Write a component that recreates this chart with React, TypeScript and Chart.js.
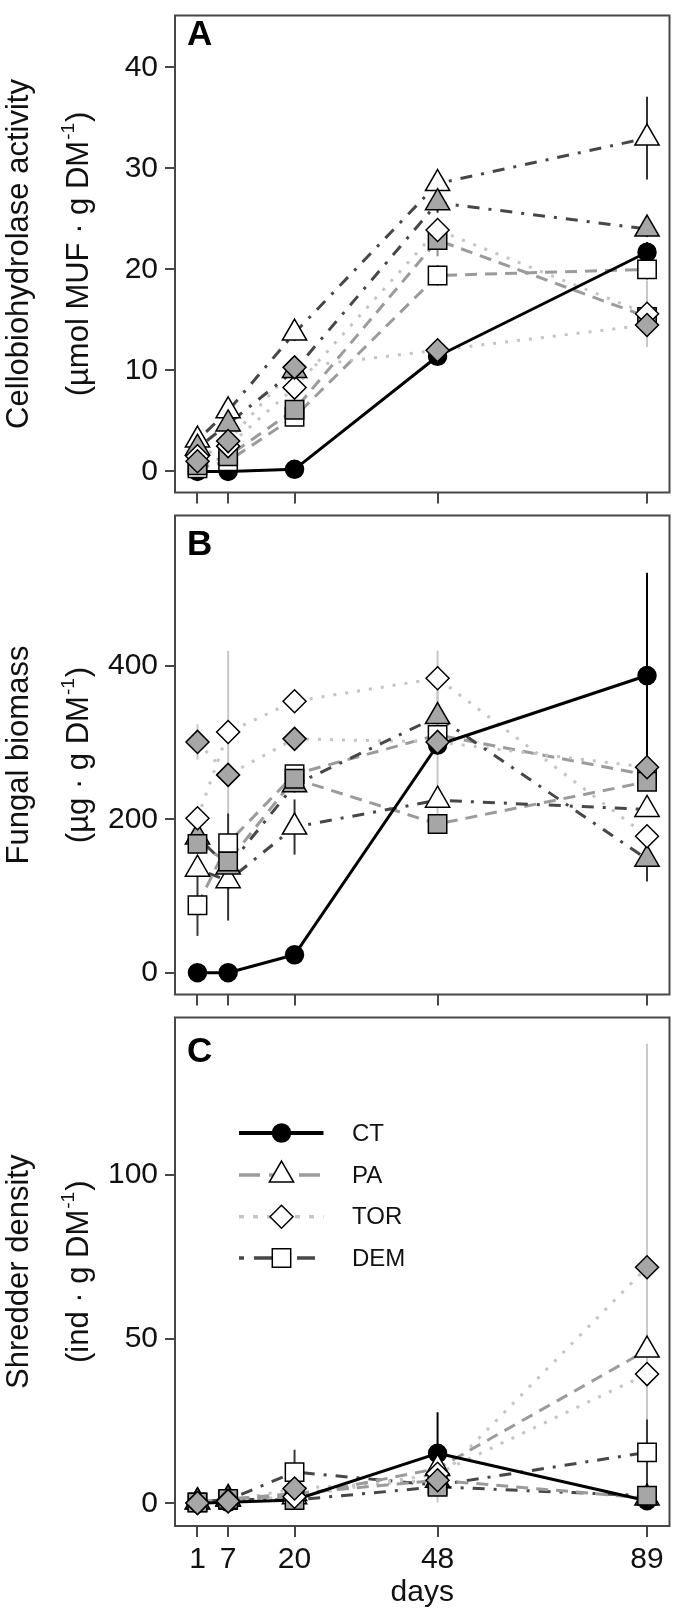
import React, { useEffect, useRef } from 'react';
import { Chart, registerables } from 'chart.js';

Chart.register(...registerables);

// ---------------- data ----------------
const days = [1, 7, 20, 48, 89];
const xTickValues = [1, 7, 20, 48, 89];

// Panel A: cellobiohydrolase activity
const cbhTicks = [0, 10, 20, 30, 40];
const cbhCT = [0, 0, 0.2, 11.4, 21.7];
const cbhCTse = [0.2, 0.2, 0.3, 0.6, 1.0];
const cbhPAopen = [3.1, 6.0, 13.7, 28.5, 33.0];
const cbhPAopenSe = [0.5, 0.6, 0.8, 0.8, 4.1];
const cbhPAgrey = [2.3, 4.7, 10.0, 26.6, 24.0];
const cbhPAgreySe = [0.4, 0.5, 0.8, 1.0, 0.8];
const cbhTORopen = [1.5, 2.5, 8.3, 23.9, 15.6];
const cbhTORopenSe = [0.4, 0.5, 0.8, 1.0, 3.3];
const cbhTORgrey = [1.0, 3.0, 10.3, 12.0, 14.5];
const cbhTORgreySe = [0.3, 0.5, 0.8, 0.5, 2.0];
const cbhDEMopen = [0.3, 1.0, 5.4, 19.4, 20.0];
const cbhDEMopenSe = [0.2, 0.3, 0.5, 1.0, 1.0];
const cbhDEMgrey = [0.6, 1.5, 6.1, 22.9, 15.3];
const cbhDEMgreySe = [0.3, 0.5, 0.6, 1.6, 1.0];

// Panel B: fungal biomass
const fbTicks = [0, 200, 400];
const fbCT = [0, 0, 23.4, 297, 387.6];
const fbCTse = [1, 1, 3, 10, 134];
const fbPAopen = [135, 120, 190, 225, 213];
const fbPAopenSe = [10, 12, 36, 10, 10];
const fbPAgrey = [177, 138, 245, 334, 148];
const fbPAgreySe = [8, 70, 10, 12, 29];
const fbTORopen = [201.5, 314, 354, 384, 178];
const fbTORopenSe = [10, 106, 10, 36, 12];
const fbTORgrey = [301, 258, 305, 301, 268];
const fbTORgreySe = [23, 12, 12, 100, 12];
const fbDEMopen = [88, 169, 259, 310, 258];
const fbDEMopenSe = [40, 12, 10, 10, 10];
const fbDEMgrey = [168, 145, 253, 194, 249];
const fbDEMgreySe = [8, 10, 10, 8, 10];

// Panel C: shredder density
const sdTicks = [0, 50, 100];
const sdCT = [0, 0.3, 1.0, 15.2, 0.8];
const sdCTse = [0.3, 0.3, 0.5, 12.5, 0.5];
const sdPAopen = [0.5, 1.5, 2.0, 10.6, 46.6];
const sdPAopenSe = [0.3, 0.4, 0.6, 2.0, 3.0];
const sdPAgrey = [0.4, 1.2, 3.0, 7.0, 1.6];
const sdPAgreySe = [0.3, 0.4, 0.6, 1.5, 0.8];
const sdTORopen = [0.1, 0.8, 2.0, 9.0, 39.3];
const sdTORopenSe = [0.3, 0.3, 0.6, 1.5, 3.0];
const sdTORgrey = [0.1, 0.6, 4.5, 7.0, 71.8];
const sdTORgreySe = [0.3, 0.3, 0.6, 6.8, 68];
const sdDEMopen = [0.3, 1.0, 9.5, 5.5, 15.5];
const sdDEMopenSe = [0.3, 0.3, 6.8, 1.0, 10];
const sdDEMgrey = [0.25, 1.3, 1.0, 5.0, 2.3];
const sdDEMgreySe = [0.3, 0.3, 0.5, 1.0, 0.8];

const legendLabels = ['CT', 'PA', 'TOR', 'DEM'];

// ---------------- styles ----------------
const FAMILY = '"Liberation Sans", Arial, Helvetica, sans-serif';
const TEXT = '#111111';
const FRAME = '#474747';
const GREY_FILL = '#a6a6a6';

type LineKey = 'solid' | 'dashed' | 'dotted' | 'dotdash';
const LINE_STYLES: Record<LineKey, { color: string; dash: number[]; width: number }> = {
  solid: { color: '#000000', dash: [], width: 3 },
  dashed: { color: '#9b9b9b', dash: [12, 8], width: 3 },
  dotted: { color: '#c4c4c4', dash: [3, 9], width: 3 },
  dotdash: { color: '#474747', dash: [3, 9, 12, 9], width: 3 },
};
const LEGEND_DASH: Record<LineKey, number[]> = {
  solid: [],
  dashed: [21, 9],
  dotted: [5, 9],
  dotdash: [5, 10, 18, 10],
};

type SeriesId = 'CT' | 'PAo' | 'PAg' | 'TORo' | 'TORg' | 'DEMo' | 'DEMg';
const MARKERS: Record<SeriesId, { shape: string; r: number; fill: string }> = {
  CT: { shape: 'circle', r: 9, fill: '#000000' },
  PAo: { shape: 'triangle', r: 14, fill: '#ffffff' },
  PAg: { shape: 'triangle', r: 14, fill: GREY_FILL },
  TORo: { shape: 'rectRot', r: 11.5, fill: '#ffffff' },
  TORg: { shape: 'rectRot', r: 11.5, fill: GREY_FILL },
  DEMo: { shape: 'rect', r: 13, fill: '#ffffff' },
  DEMg: { shape: 'rect', r: 13, fill: GREY_FILL },
};
const ERR_COLOR: Record<SeriesId, string> = {
  CT: '#000000',
  PAo: '#333333',
  PAg: '#333333',
  TORo: '#c8c8c8',
  TORg: '#c8c8c8',
  DEMo: '#3a3a3a',
  DEMg: '#8f8f8f',
};
// smaller order = drawn on top
const POINT_ORDER: Record<SeriesId, number> = { TORg: 1, TORo: 2, DEMg: 3, DEMo: 4, PAg: 5, PAo: 6, CT: 7 };
const LINE_ORDER: Record<SeriesId, number> = { CT: 10, PAo: 11, PAg: 12, TORo: 13, TORg: 14, DEMo: 15, DEMg: 16 };

const LINES_AB: Record<SeriesId, LineKey> = {
  CT: 'solid', PAo: 'dotdash', PAg: 'dotdash', TORo: 'dotted', TORg: 'dotted', DEMo: 'dashed', DEMg: 'dashed',
};
const LINES_C: Record<SeriesId, LineKey> = {
  CT: 'solid', PAo: 'dashed', PAg: 'dashed', TORo: 'dotted', TORg: 'dotted', DEMo: 'dotdash', DEMg: 'dotdash',
};

type SeriesDef = { id: SeriesId; vals: number[]; se: number[] };
type PanelDef = {
  letter: string;
  yMin: number;
  yMax: number;
  yTicks: number[];
  title1: string;
  title2: string;
  title2sup: string;
  title2end: string;
  series: SeriesDef[];
  lines: Record<SeriesId, LineKey>;
  showX: boolean;
  legend: boolean;
  canvasTop: number;
  canvasHeight: number;
  padTop: number;
  xAxisH: number;
  letterY: number;
};

const PANELS: PanelDef[] = [
  {
    letter: 'A', yMin: -2.09, yMax: 45.14, yTicks: cbhTicks,
    title1: 'Cellobiohydrolase activity', title2: '(\u00b5mol MUF \u00b7 g DM', title2sup: '-1', title2end: ')',
    series: [
      { id: 'CT', vals: cbhCT, se: cbhCTse },
      { id: 'PAo', vals: cbhPAopen, se: cbhPAopenSe },
      { id: 'PAg', vals: cbhPAgrey, se: cbhPAgreySe },
      { id: 'TORo', vals: cbhTORopen, se: cbhTORopenSe },
      { id: 'TORg', vals: cbhTORgrey, se: cbhTORgreySe },
      { id: 'DEMo', vals: cbhDEMopen, se: cbhDEMopenSe },
      { id: 'DEMg', vals: cbhDEMgrey, se: cbhDEMgreySe },
    ],
    lines: LINES_AB, showX: false, legend: false,
    canvasTop: 0, canvasHeight: 508, padTop: 4, xAxisH: 13, letterY: 45,
  },
  {
    letter: 'B', yMin: -28.4, yMax: 596.3, yTicks: fbTicks,
    title1: 'Fungal biomass', title2: '(\u00b5g \u00b7 g DM', title2sup: '-1', title2end: ')',
    series: [
      { id: 'CT', vals: fbCT, se: fbCTse },
      { id: 'PAo', vals: fbPAopen, se: fbPAopenSe },
      { id: 'PAg', vals: fbPAgrey, se: fbPAgreySe },
      { id: 'TORo', vals: fbTORopen, se: fbTORopenSe },
      { id: 'TORg', vals: fbTORgrey, se: fbTORgreySe },
      { id: 'DEMo', vals: fbDEMopen, se: fbDEMopenSe },
      { id: 'DEMg', vals: fbDEMgrey, se: fbDEMgreySe },
    ],
    lines: LINES_AB, showX: false, legend: false,
    canvasTop: 500, canvasHeight: 510, padTop: 8, xAxisH: 11, letterY: 555,
  },
  {
    letter: 'C', yMin: -6.9, yMax: 147.75, yTicks: sdTicks,
    title1: 'Shredder density', title2: '(ind \u00b7 g DM', title2sup: '-1', title2end: ')',
    series: [
      { id: 'CT', vals: sdCT, se: sdCTse },
      { id: 'PAo', vals: sdPAopen, se: sdPAopenSe },
      { id: 'PAg', vals: sdPAgrey, se: sdPAgreySe },
      { id: 'TORo', vals: sdTORopen, se: sdTORopenSe },
      { id: 'TORg', vals: sdTORgrey, se: sdTORgreySe },
      { id: 'DEMo', vals: sdDEMopen, se: sdDEMopenSe },
      { id: 'DEMg', vals: sdDEMgrey, se: sdDEMgreySe },
    ],
    lines: LINES_C, showX: true, legend: true,
    canvasTop: 1002, canvasHeight: 616, padTop: 8, xAxisH: 92, letterY: 1062,
  },
];

const LEGEND_SERIES: SeriesId[] = ['CT', 'PAo', 'TORo', 'DEMo'];
const LEGEND_ROWS_Y = [1133, 1175, 1216.7, 1258];

// ---------------- drawing helpers ----------------
function markerPath(ctx: CanvasRenderingContext2D, shape: string, x: number, y: number, r: number) {
  ctx.beginPath();
  if (shape === 'circle') {
    ctx.arc(x, y, r, 0, Math.PI * 2);
  } else if (shape === 'triangle') {
    let rad = 0;
    ctx.moveTo(x + Math.sin(rad) * r, y - Math.cos(rad) * r);
    rad += (2 * Math.PI) / 3;
    ctx.lineTo(x + Math.sin(rad) * r, y - Math.cos(rad) * r);
    rad += (2 * Math.PI) / 3;
    ctx.lineTo(x + Math.sin(rad) * r, y - Math.cos(rad) * r);
  } else if (shape === 'rectRot') {
    ctx.moveTo(x - r, y);
    ctx.lineTo(x, y - r);
    ctx.lineTo(x + r, y);
    ctx.lineTo(x, y + r);
  } else {
    const s = Math.SQRT1_2 * r;
    ctx.rect(x - s, y - s, 2 * s, 2 * s);
  }
  ctx.closePath();
}

function drawErrorBars(chart: any, def: PanelDef) {
  const ctx: CanvasRenderingContext2D = chart.ctx;
  const xs = chart.scales.x;
  const ys = chart.scales.y;
  ctx.save();
  ctx.lineWidth = 2;
  ctx.setLineDash([]);
  ctx.lineCap = 'butt';
  def.series.forEach((s) => {
    ctx.strokeStyle = ERR_COLOR[s.id];
    days.forEach((d, i) => {
      const e = s.se[i];
      if (!e) return;
      const x = xs.getPixelForValue(d);
      const y1 = ys.getPixelForValue(s.vals[i] - e);
      const y2 = ys.getPixelForValue(s.vals[i] + e);
      ctx.beginPath();
      ctx.moveTo(x, y1);
      ctx.lineTo(x, y2);
      ctx.stroke();
    });
  });
  ctx.restore();
}

function drawYTitle(ctx: CanvasRenderingContext2D, def: PanelDef, area: any) {
  const cy = (area.top + area.bottom) / 2;
  const main = `31px ${FAMILY}`;
  const sup = `19px ${FAMILY}`;
  ctx.save();
  ctx.fillStyle = TEXT;
  ctx.textBaseline = 'middle';
  ctx.translate(19, cy);
  ctx.rotate(-Math.PI / 2);
  ctx.font = main;
  ctx.textAlign = 'center';
  ctx.fillText(def.title1, 0, 0);
  ctx.restore();

  ctx.save();
  ctx.fillStyle = TEXT;
  ctx.textBaseline = 'middle';
  ctx.translate(79, cy);
  ctx.rotate(-Math.PI / 2);
  ctx.font = main;
  const w1 = ctx.measureText(def.title2).width;
  const w3 = ctx.measureText(def.title2end).width;
  ctx.font = sup;
  const w2 = ctx.measureText(def.title2sup).width;
  let x = -(w1 + w2 + w3 + 2) / 2;
  ctx.textAlign = 'left';
  ctx.font = main;
  ctx.fillText(def.title2, x, 0);
  x += w1 + 1;
  ctx.font = sup;
  ctx.fillText(def.title2sup, x, -10);
  x += w2 + 1;
  ctx.font = main;
  ctx.fillText(def.title2end, x, 0);
  ctx.restore();
}

function drawLegend(ctx: CanvasRenderingContext2D, def: PanelDef) {
  const legendLines: LineKey[] = ['solid', 'dashed', 'dotted', 'dotdash'];
  ctx.save();
  LEGEND_SERIES.forEach((id, i) => {
    const y = LEGEND_ROWS_Y[i] - def.canvasTop;
    const lk = legendLines[i];
    const ls = LINE_STYLES[lk];
    ctx.strokeStyle = ls.color;
    ctx.lineWidth = lk === 'solid' ? 4 : 3.5;
    ctx.lineCap = 'butt';
    ctx.setLineDash(LEGEND_DASH[lk]);
    ctx.beginPath();
    ctx.moveTo(239, y);
    ctx.lineTo(323.5, y);
    ctx.stroke();
    ctx.setLineDash([]);
    const m = MARKERS[id];
    markerPath(ctx, m.shape, 281.5, y, m.r);
    ctx.fillStyle = m.fill;
    ctx.fill();
    ctx.lineWidth = 1.5;
    ctx.strokeStyle = '#000000';
    ctx.stroke();
    ctx.fillStyle = TEXT;
    ctx.font = `24px ${FAMILY}`;
    ctx.textAlign = 'left';
    ctx.textBaseline = 'middle';
    ctx.fillText(legendLabels[i], 352, y + 1);
  });
  ctx.restore();
}

function makePlugin(def: PanelDef) {
  let errDrawn = false;
  return {
    id: 'panelDeco' + def.letter,
    beforeDraw() {
      errDrawn = false;
    },
    beforeDatasetDraw(chart: any, args: any) {
      const ds = chart.data.datasets[args.index];
      if (ds && ds.isPts && !errDrawn) {
        drawErrorBars(chart, def);
        errDrawn = true;
      }
    },
    afterDraw(chart: any) {
      const ctx: CanvasRenderingContext2D = chart.ctx;
      const a = chart.chartArea;
      ctx.save();
      ctx.strokeStyle = FRAME;
      ctx.lineWidth = 2;
      ctx.setLineDash([]);
      ctx.strokeRect(a.left, a.top, a.right - a.left, a.bottom - a.top);
      ctx.fillStyle = '#000000';
      ctx.font = `bold 35px ${FAMILY}`;
      ctx.textAlign = 'left';
      ctx.textBaseline = 'alphabetic';
      ctx.fillText(def.letter, 187, def.letterY - def.canvasTop);
      ctx.restore();
      drawYTitle(ctx, def, a);
      if (def.legend) drawLegend(ctx, def);
    },
  };
}

function makeChart(canvas: HTMLCanvasElement, def: PanelDef) {
  const datasets: any[] = [];
  def.series.forEach((s) => {
    const ls = LINE_STYLES[def.lines[s.id]];
    const pts = days.map((d, i) => ({ x: d, y: s.vals[i] }));
    datasets.push({
      label: s.id + ' line',
      data: pts,
      borderColor: ls.color,
      borderDash: ls.dash,
      borderWidth: ls.width,
      borderCapStyle: 'butt',
      borderJoinStyle: 'round',
      pointRadius: 0,
      pointHoverRadius: 0,
      fill: false,
      tension: 0,
      order: LINE_ORDER[s.id],
      clip: false,
    });
    const m = MARKERS[s.id];
    datasets.push({
      label: s.id,
      data: pts,
      showLine: false,
      pointStyle: m.shape,
      pointRadius: m.r,
      pointHoverRadius: m.r,
      pointBackgroundColor: m.fill,
      pointBorderColor: '#000000',
      pointBorderWidth: 1.5,
      order: POINT_ORDER[s.id],
      isPts: true,
      clip: false,
    });
  });

  const gridCfg = {
    display: true,
    drawOnChartArea: false,
    drawTicks: true,
    tickColor: FRAME,
    tickWidth: 2,
    lineWidth: 2,
  };

  return new Chart(canvas, {
    type: 'line',
    data: { datasets },
    plugins: [makePlugin(def)],
    options: {
      responsive: false,
      animation: false,
      devicePixelRatio: 1,
      events: [],
      layout: { padding: { left: 0, right: 5, top: def.padTop, bottom: 0 } },
      plugins: { legend: { display: false }, tooltip: { enabled: false } },
      scales: {
        x: {
          type: 'linear',
          min: -3.4,
          max: 93.4,
          afterBuildTicks: (s: any) => {
            s.ticks = xTickValues.map((v) => ({ value: v }));
          },
          afterFit: (s: any) => {
            s.height = def.xAxisH;
            s.paddingLeft = 0;
            s.paddingRight = 0;
          },
          grid: { ...gridCfg, tickLength: 11 },
          border: { display: false },
          ticks: {
            display: def.showX,
            autoSkip: false,
            maxRotation: 0,
            color: TEXT,
            font: { size: 30, family: FAMILY },
            padding: 5,
          },
          title: {
            display: def.showX,
            text: 'days',
            color: TEXT,
            font: { size: 30, family: FAMILY },
            padding: { top: 0, bottom: 7 },
          },
        },
        y: {
          type: 'linear',
          min: def.yMin,
          max: def.yMax,
          afterBuildTicks: (s: any) => {
            s.ticks = def.yTicks.map((v) => ({ value: v }));
          },
          afterFit: (s: any) => {
            s.width = 175;
            s.paddingTop = 0;
            s.paddingBottom = 0;
          },
          grid: { ...gridCfg, tickLength: 10 },
          border: { display: false },
          ticks: {
            color: TEXT,
            font: { size: 30, family: FAMILY },
            padding: 7,
            autoSkip: false,
          },
        },
      },
    } as any,
  });
}

export default function App() {
  const refs = useRef<(HTMLCanvasElement | null)[]>([]);

  useEffect(() => {
    Chart.defaults.font.family = FAMILY;
    const charts = PANELS.map((p, i) => makeChart(refs.current[i] as HTMLCanvasElement, p));
    return () => {
      charts.forEach((c) => c.destroy());
    };
  }, []);

  return (
    <div style={{ position: 'absolute', left: 0, top: 0, width: 685, height: 1618, background: '#ffffff' }}>
      {PANELS.map((p, i) => (
        <canvas
          key={p.letter}
          ref={(el) => {
            refs.current[i] = el;
          }}
          width={685}
          height={p.canvasHeight}
          style={{ position: 'absolute', left: 0, top: p.canvasTop, width: 685, height: p.canvasHeight }}
        />
      ))}
    </div>
  );
}
